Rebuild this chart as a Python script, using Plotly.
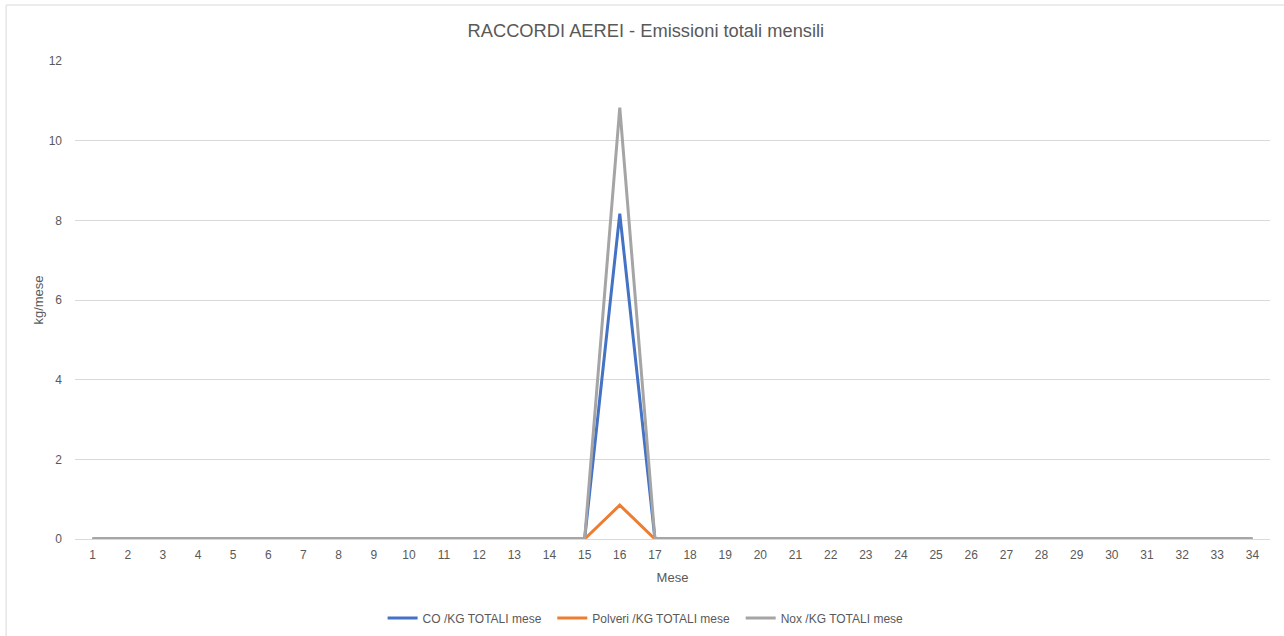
import plotly.graph_objects as go

months = list(range(1, 35))
co = [0]*14 + [0, 8.17, 0] + [0]*17
polveri = [0]*14 + [0, 0.85, 0] + [0]*17
nox = [0]*14 + [0, 10.83, 0] + [0]*17

series = [
    ("CO /KG TOTALI mese", co, "#4472C4"),
    ("Polveri /KG TOTALI mese", polveri, "#ED7D31"),
    ("Nox /KG TOTALI mese", nox, "#A5A5A5"),
]

fig = go.Figure()
for name, vals, color in series:
    fig.add_trace(go.Scatter(x=months, y=vals, name=name + "\u2002", mode="lines",
                             line=dict(color=color, width=3)))

font = "Liberation Sans, Arial, sans-serif"
fig.update_layout(
    width=1284, height=636,
    margin=dict(l=75, r=14, t=61, b=97),
    paper_bgcolor="white", plot_bgcolor="white",
    title=dict(text="RACCORDI AEREI - Emissioni totali mensili", x=0.503, xanchor="center",
               y=1 - 31/636, yanchor="middle",
               font=dict(family=font, size=18.3, color="#595959")),
    font=dict(family=font, size=12, color="#595959"),
    showlegend=True,
    legend=dict(orientation="h", x=0.48, xanchor="center", yref="container",
                y=1 - 618/636, yanchor="middle",
                font=dict(family=font, size=12, color="#595959"),
                itemwidth=30, tracegroupgap=0),
    xaxis=dict(range=[0.5, 34.5], tickmode="array", tickvals=months,
               ticktext=[str(m) for m in months], showgrid=False, automargin=False,
               showline=True, linecolor="#D9D9D9", linewidth=1, zeroline=False,
               ticks="", ticklabelstandoff=5, tickfont=dict(size=12, color="#595959"),
               title=dict(text="Mese", font=dict(size=13, color="#595959"), standoff=11)),
    yaxis=dict(range=[0, 12], tickmode="array", tickvals=[0, 2, 4, 6, 8, 10, 12],
               showgrid=True, gridcolor="#D9D9D9", gridwidth=1, zeroline=False, automargin=False,
               showline=False, ticks="", ticklen=0, ticklabelstandoff=12,
               tickfont=dict(size=12, color="#595959"),
               title=dict(text="kg/mese", font=dict(size=13, color="#595959"), standoff=2)),
    shapes=[
        dict(type="line", xref="paper", yref="paper", x0=-69/1197, x1=1.1, y0=1+56/478, y1=1+56/478,
             line=dict(color="#D9D9D9", width=1)),
        dict(type="line", xref="paper", yref="paper", x0=-69/1197, x1=-69/1197, y0=1+56/478, y1=-0.3,
             line=dict(color="#D9D9D9", width=1)),
    ],
)

fig.write_html("out.html")
